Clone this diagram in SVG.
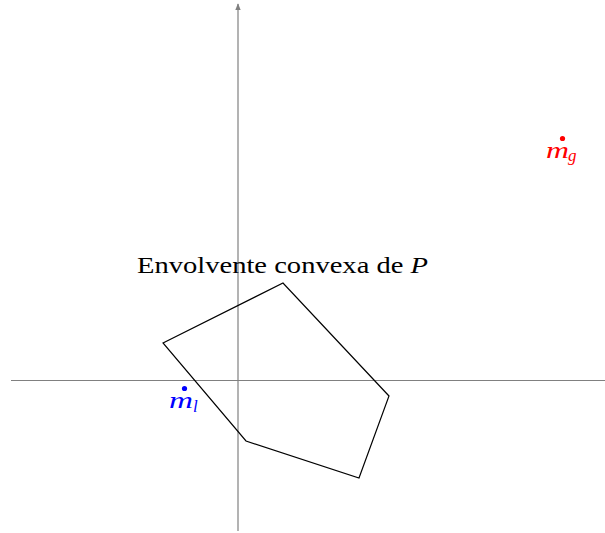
<svg xmlns="http://www.w3.org/2000/svg" width="605" height="533" viewBox="0 0 605 533">
<style>
.axis{stroke:#808080;stroke-width:1.2;fill:none}
.hull{stroke:#000;stroke-width:1.2;fill:none;stroke-linejoin:miter}
.lbl{font-family:"Liberation Serif","DejaVu Serif",serif;font-size:24px}
.math{font-family:"Liberation Serif","DejaVu Serif",serif;font-style:italic}
.m{font-size:23px}
.sub{font-size:17px}
</style>
<defs>
<marker id="arr" viewBox="0 0 10 10" refX="9" refY="5" markerWidth="7" markerHeight="7" markerUnits="userSpaceOnUse" orient="auto">
<path d="M0,1 L10,5 L0,9 Z" fill="#808080"/>
</marker>
</defs>
<rect width="605" height="533" fill="#fff"/>
<g id="connectors">
<line class="axis" x1="11" y1="380.5" x2="605" y2="380.5"/>
<line class="axis" x1="238" y1="531" x2="238" y2="4" marker-end="url(#arr)"/>
</g>
<g id="hull">
<polygon class="hull" points="163,343 283,283 389,396 359,478 246,441"/>
<text class="lbl" x="137" y="273" textLength="291" lengthAdjust="spacingAndGlyphs">Envolvente convexa de <tspan class="math">P</tspan></text>
</g>
<g id="ml" fill="#0000ff">
<circle cx="184.5" cy="388.5" r="2.6"/>
<text class="math m" x="169" y="408" textLength="24" lengthAdjust="spacingAndGlyphs">m</text>
<text class="math sub" x="193" y="412">l</text>
</g>
<g id="mg" fill="#ff0000">
<circle cx="562.5" cy="138.5" r="2.6"/>
<text class="math m" x="546" y="158" textLength="23" lengthAdjust="spacingAndGlyphs">m</text>
<text class="math sub" x="568" y="161">g</text>
</g>
</svg>
